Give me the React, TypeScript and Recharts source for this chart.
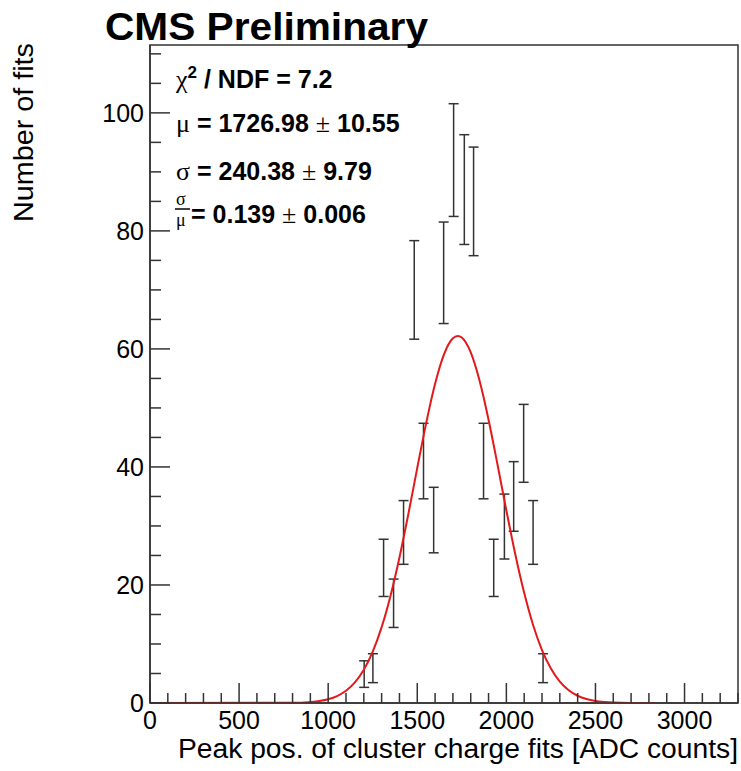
import React from "react";
import { ComposedChart, XAxis, YAxis, Line, Scatter, ErrorBar, ReferenceArea } from "recharts";

// histogram of fitted peak positions (bin centre, content, error)
const binCenters = [1202, 1251, 1311, 1367, 1423, 1483, 1535, 1592, 1648, 1704, 1764, 1816, 1872, 1929, 1989, 2041, 2097, 2150, 2206];
const binCounts = [4.9, 5.9, 22.9, 16.9, 28.9, 70, 41, 31, 72.9, 92, 87, 85, 41, 22.9, 29.9, 35, 44, 28.9, 5.9];
const binErrors = [2.25, 2.45, 4.85, 4.1, 5.4, 8.35, 6.4, 5.55, 8.6, 9.55, 9.3, 9.2, 6.4, 4.85, 5.5, 5.9, 6.6, 5.4, 2.45];

// gaussian fit curve
const fitX = [0, 850, 900, 950, 1000, 1050, 1100, 1150, 1200, 1250, 1300, 1350, 1400, 1450, 1500, 1550, 1600, 1650, 1700, 1727, 1750, 1800, 1850, 1900, 1950, 2000, 2050, 2100, 2150, 2200, 2250, 2300, 2350, 2400, 2450, 2500, 2550, 2600, 2700, 2837];
const fitY = [0, 0.05, 0.17, 0.34, 0.64, 1.18, 2.07, 3.49, 5.62, 8.69, 12.85, 18.19, 24.67, 32.03, 39.84, 47.43, 54.1, 59.09, 61.81, 62.2, 61.92, 59.4, 54.57, 48.01, 40.45, 32.64, 25.22, 18.67, 13.23, 8.98, 5.84, 3.63, 2.16, 1.23, 0.67, 0.35, 0.18, 0.08, 0.01, 0];

const xTicks = [0, 100, 200, 300, 400, 500, 600, 700, 800, 900, 1000, 1100, 1200, 1300, 1400, 1500, 1600, 1700, 1800, 1900, 2000, 2100, 2200, 2300, 2400, 2500, 2600, 2700, 2800, 2900, 3000, 3100, 3200, 3300];
const xLabels = [0, 500, 1000, 1500, 2000, 2500, 3000];
const yTicks = [0, 5, 10, 15, 20, 25, 30, 35, 40, 45, 50, 55, 60, 65, 70, 75, 80, 85, 90, 95, 100, 105, 110];
const yLabels = [0, 20, 40, 60, 80, 100];

const bins = binCenters.map((x, i) => ({ x, y: binCounts[i], err: binErrors[i] }));
const fit = fitX.map((x, i) => ({ x, y: fitY[i] }));

const SANS = "'Liberation Sans', Arial, Helvetica, sans-serif";
const SERIF = "'Liberation Serif', 'Times New Roman', serif";
const AX = "#333";

const XTick = (props: any) => {
  const { x, y, payload } = props;
  const major = xLabels.includes(payload.value);
  return (
    <g>
      <line x1={x} x2={x} y1={y} y2={y - (major ? 20 : 10)} stroke={AX} strokeWidth={1.5} />
      {major && (
        <text x={x} y={y + 26} textAnchor="middle" fontSize={25} fontFamily={SANS} fill="#000">
          {payload.value}
        </text>
      )}
    </g>
  );
};

const YTick = (props: any) => {
  const { x, y, payload } = props;
  const major = yLabels.includes(payload.value);
  return (
    <g>
      <line x1={x} x2={x + (major ? 20 : 11)} y1={y} y2={y} stroke={AX} strokeWidth={1.5} />
      {major && (
        <text x={x - 6} y={y + 9} textAnchor="end" fontSize={25} fontFamily={SANS} fill="#000">
          {payload.value}
        </text>
      )}
    </g>
  );
};

export default function App() {
  return (
    <div style={{ position: "absolute", left: 0, top: 0, width: 741, height: 771, background: "#fff" }}>
      <ComposedChart width={741} height={771} margin={{ top: 45, right: 3, left: 0, bottom: 0 }}>
        <XAxis
          type="number"
          dataKey="x"
          domain={[0, 3300]}
          ticks={xTicks}
          interval={0}
          height={68}
          tickSize={0}
          tickMargin={0}
          tickLine={false}
          tick={XTick}
          axisLine={{ stroke: AX, strokeWidth: 1.5 }}
          allowDataOverflow
        />
        <YAxis
          type="number"
          dataKey="y"
          domain={[0, 111.5]}
          ticks={yTicks}
          interval={0}
          width={150}
          tickSize={0}
          tickMargin={0}
          tickLine={false}
          tick={YTick}
          axisLine={{ stroke: AX, strokeWidth: 1.5 }}
          allowDataOverflow
        />
        <ReferenceArea x1={0} x2={3300} y1={0} y2={111.5} fill="none" stroke={AX} strokeWidth={1.5} ifOverflow="visible" />
        <Scatter data={bins} dataKey="y" shape={() => <g />} isAnimationActive={false}>
          <ErrorBar dataKey="err" direction="y" width={5} stroke="#333" strokeWidth={1.5} isAnimationActive={false} />
        </Scatter>
        <Line data={fit} dataKey="y" type="monotone" stroke="#e3191c" strokeWidth={2} dot={false} isAnimationActive={false} />
      </ComposedChart>
      <svg width={741} height={771} style={{ position: "absolute", left: 0, top: 0, pointerEvents: "none" }}>
        <text x={105} y={40} fontSize={38} fontWeight="bold" fontFamily={SANS} fill="#000" textLength={323} lengthAdjust="spacingAndGlyphs">
          CMS Preliminary
        </text>
        <text transform="translate(33,43) rotate(-90)" textAnchor="end" fontSize={27} fontFamily={SANS} fill="#000" textLength={179} lengthAdjust="spacingAndGlyphs">
          Number of fits
        </text>
        <text x={738} y={758} textAnchor="end" fontSize={27} fontFamily={SANS} fill="#000" textLength={560} lengthAdjust="spacingAndGlyphs">
          Peak pos. of cluster charge fits [ADC counts]
        </text>
        <g fontSize={25} fontFamily={SANS} fill="#000">
          <text x={176} y={88}>
            <tspan fontFamily={SERIF} fontSize={26}>χ</tspan>
            <tspan fontWeight="bold" fontSize={17} dy={-10}>2</tspan>
            <tspan fontWeight="bold" dy={10}> / NDF = 7.2</tspan>
          </text>
          <text x={176} y={132}>
            <tspan fontFamily={SERIF} fontSize={26}>μ</tspan>
            <tspan fontWeight="bold"> = 1726.98 </tspan>
            <tspan fontFamily={SERIF} fontSize={26}>±</tspan>
            <tspan fontWeight="bold"> 10.55</tspan>
          </text>
          <text x={176} y={180}>
            <tspan fontFamily={SERIF} fontSize={26}>σ</tspan>
            <tspan fontWeight="bold"> = 240.38 </tspan>
            <tspan fontFamily={SERIF} fontSize={26}>±</tspan>
            <tspan fontWeight="bold"> 9.79</tspan>
          </text>
          <text x={176} y={205} fontFamily={SERIF} fontSize={18}>σ</text>
          <line x1={175} x2={190} y1={209} y2={209} stroke="#000" strokeWidth={1.5} />
          <text x={176} y={226} fontFamily={SERIF} fontSize={18}>μ</text>
          <text x={191} y={223}>
            <tspan fontWeight="bold">= 0.139 </tspan>
            <tspan fontFamily={SERIF} fontSize={26}>±</tspan>
            <tspan fontWeight="bold"> 0.006</tspan>
          </text>
        </g>
      </svg>
    </div>
  );
}
